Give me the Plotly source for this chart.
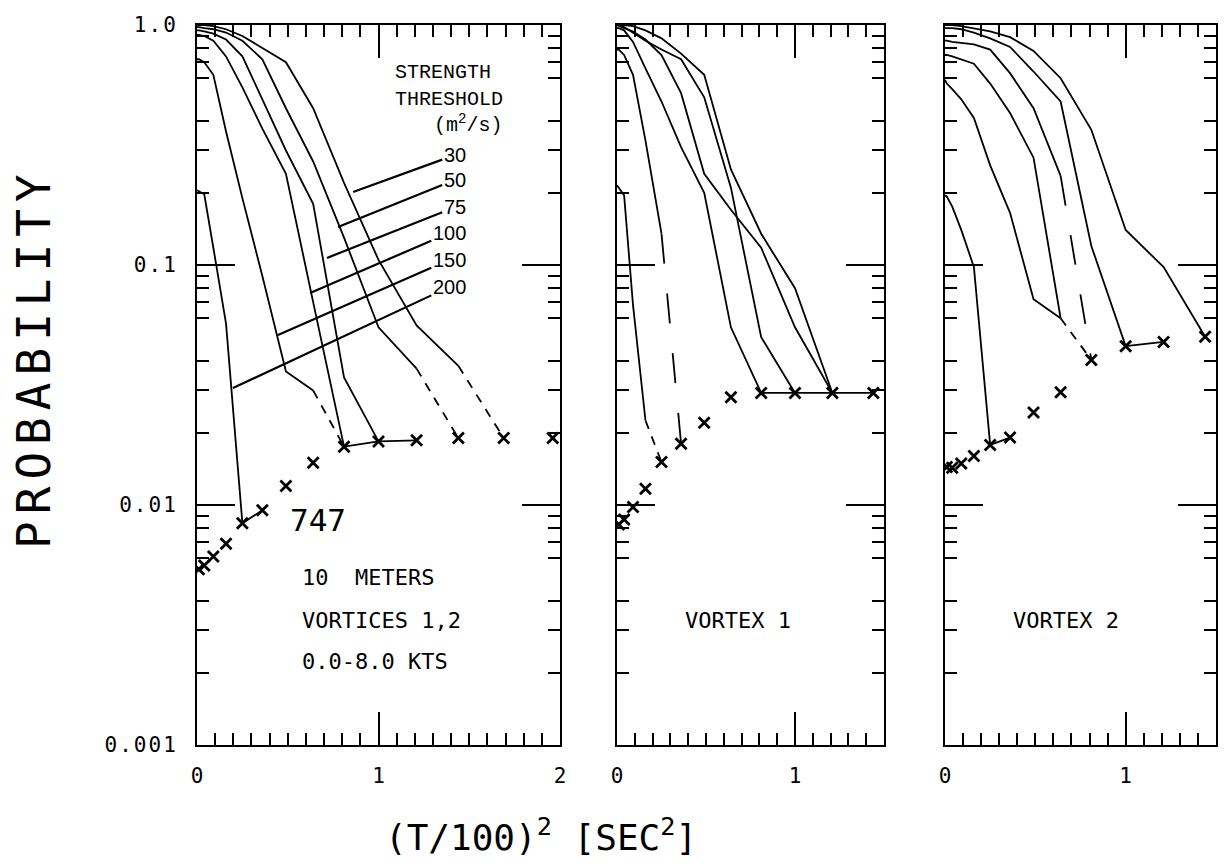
import numpy as np
import plotly.graph_objects as go

W, H = 1225, 864

# ---------------------------------------------------------------- data ----
# abscissa nodes: (T/100)^2 for T = 0, 10, 20, ..., 140 s
T_SQ = [0.0, 0.01, 0.04, 0.09, 0.16, 0.25, 0.36, 0.49, 0.64, 0.81, 1.0, 1.21, 1.44, 1.69, 1.96]

# strength thresholds (m^2/s) labelled in the first panel
THRESHOLDS = ["30", "50", "75", "100", "150", "200"]

# Every curve list starts at T = 0 and runs along T_SQ.
# --- 747, 10 m, vortices 1,2 : probability that strength exceeds threshold
v12_p30 = [1.0, 1.0, 1.0, 0.99, 0.96, 0.90, 0.80, 0.70, 0.45, 0.22, 0.105, 0.056, 0.038]
v12_p30_tail = [0.038, 0.019]          # dashed, T = 120 -> 130
v12_p50 = [0.98, 0.98, 0.97, 0.96, 0.93, 0.86, 0.72, 0.45, 0.27, 0.13, 0.055, 0.037]
v12_p50_tail = [0.037, 0.019]          # dashed, T = 110 -> 120
v12_p75 = [0.95, 0.95, 0.94, 0.92, 0.87, 0.74, 0.49, 0.30, 0.18, 0.034, 0.0184]
v12_p100 = [0.91, 0.91, 0.90, 0.86, 0.74, 0.55, 0.37, 0.24, 0.07, 0.0175]
v12_p150 = [0.72, 0.72, 0.70, 0.62, 0.36, 0.19, 0.09, 0.036, 0.030]
v12_p150_tail = [0.030, 0.0175]        # dashed, T = 80 -> 90
v12_p200 = [0.205, 0.203, 0.197, 0.118, 0.057, 0.0084]
# minimum resolvable probability (x markers), T = 10 ... 140
v12_floor = [0.0054, 0.0056, 0.0061, 0.0069, 0.0084, 0.0095, 0.0120, 0.0150,
             0.0175, 0.0184, 0.0186, 0.0190, 0.0190, 0.0190]

# --- vortex 1
v1_p30 = [1.0, 0.99, 0.97, 0.94, 0.87, 0.75, 0.52, 0.24, 0.17, 0.118, 0.055, 0.0293]
v1_p50 = [1.0, 1.0, 1.0, 0.99, 0.95, 0.88, 0.76, 0.62, 0.25, 0.135, 0.08, 0.0293]
v1_p75 = [1.0, 1.0, 0.98, 0.93, 0.86, 0.79, 0.72, 0.50, 0.21, 0.05, 0.0293]
v1_p100 = [0.97, 0.97, 0.95, 0.85, 0.66, 0.48, 0.31, 0.20, 0.055, 0.0293]
v1_p150 = [0.79, 0.79, 0.75, 0.62, 0.33, 0.135]
v1_p150_tail = [0.135, 0.018]          # long dashes, T = 50 -> 60
v1_p200 = [0.215, 0.21, 0.195, 0.068, 0.0225]
v1_p200_tail = [0.0225, 0.0151]        # dashed, T = 40 -> 50
v1_floor = [0.0083, 0.0087, 0.0098, 0.0117, 0.0151, 0.0180, 0.0220, 0.0281,
            0.0293, 0.0293, 0.0293, 0.0293]

# --- vortex 2
v2_p30 = [1.0, 1.0, 1.0, 0.99, 0.97, 0.94, 0.89, 0.78, 0.60, 0.366, 0.14, 0.098, 0.0502]
v2_p50 = [0.97, 0.97, 0.97, 0.96, 0.93, 0.88, 0.81, 0.64, 0.48, 0.12, 0.0459]
v2_p75 = [0.86, 0.86, 0.85, 0.84, 0.83, 0.79, 0.63, 0.45, 0.235]
v2_p75_tail = [0.235, 0.0402]          # long dashes, T = 80 -> 90
v2_p100 = [0.75, 0.75, 0.74, 0.72, 0.69, 0.57, 0.43, 0.28, 0.06]
v2_p150 = [0.59, 0.57, 0.54, 0.49, 0.41, 0.26, 0.165, 0.072, 0.06]
v2_p_join_tail = [0.06, 0.0402]        # dashed, T = 80 -> 90
v2_p200 = [0.195, 0.193, 0.175, 0.14, 0.098, 0.0178]
v2_floor = [0.0144, 0.0143, 0.0149, 0.0160, 0.0178, 0.0191, 0.0243, 0.0295,
            0.0402, 0.0459, 0.0478, 0.0502]

# ------------------------------------------------------------- helpers ----
fig = go.Figure()
INK = "black"
MONO = "DejaVu Sans Mono"


def nodes(n, start=0):
    return T_SQ[start:start + n]


def line(xs, ps, ax, dash=None, width=1.8):
    fig.add_trace(go.Scatter(
        x=xs, y=ps, mode="lines", xaxis="x" + ax, yaxis="y" + ax,
        line=dict(color=INK, width=width, dash=dash),
        hoverinfo="skip", showlegend=False))


def curve(ps, ax, tail=None, dash=None):
    line(nodes(len(ps)), ps, ax)
    if tail is not None:
        i = len(ps) - 1
        line(T_SQ[i:i + 2], tail, ax, dash=dash)


def crosses(ps, ax):
    fig.add_trace(go.Scatter(
        x=nodes(len(ps), 1), y=ps, mode="markers", xaxis="x" + ax, yaxis="y" + ax,
        marker=dict(symbol="x-thin", size=11, color=INK, line=dict(width=2.8, color=INK)),
        hoverinfo="skip", showlegend=False))


def floor_seg(floor, i0, i1, ax):
    # connects markers T = 10*(i0+1) ... 10*(i1+1)
    line(T_SQ[i0 + 1:i1 + 2], floor[i0:i1 + 1], ax)


SHORT_DASH = "9px,8px"
LONG_DASH = "30px,30px"

# panel 1 ("" axis suffix)
curve(v12_p30, "", v12_p30_tail, SHORT_DASH)
curve(v12_p50, "", v12_p50_tail, SHORT_DASH)
curve(v12_p75, "")
curve(v12_p100, "")
curve(v12_p150, "", v12_p150_tail, SHORT_DASH)
curve(v12_p200, "")
crosses(v12_floor, "")
floor_seg(v12_floor, 0, 2, "")
floor_seg(v12_floor, 4, 5, "")
floor_seg(v12_floor, 8, 10, "")

# panel 2
curve(v1_p30, "2")
curve(v1_p50, "2")
curve(v1_p75, "2")
curve(v1_p100, "2")
curve(v1_p150, "2", v1_p150_tail, LONG_DASH)
curve(v1_p200, "2", v1_p200_tail, SHORT_DASH)
crosses(v1_floor, "2")
floor_seg(v1_floor, 8, 11, "2")

# panel 3
curve(v2_p30, "3")
curve(v2_p50, "3")
curve(v2_p75, "3", v2_p75_tail, LONG_DASH)
curve(v2_p100, "3")
curve(v2_p150, "3", v2_p_join_tail, SHORT_DASH)
curve(v2_p200, "3")
crosses(v2_floor, "3")
floor_seg(v2_floor, 4, 5, "3")
floor_seg(v2_floor, 9, 10, "3")

# --------------------------------------------------------------- axes ----
def px_x(p):
    return p / W


def px_y(p):
    return 1 - p / H


def spaced(txt, sp):
    return '<span style="letter-spacing:%spx">%s</span>' % (sp, txt)


Y_DOM = [px_y(745), px_y(25)]
PANELS = [("", [197, 560], 2.0, [0, 1, 2]),
          ("2", [617, 884], 1.5, [0, 1]),
          ("3", [945, 1216], 1.5, [0, 1])]

decades = [0.001, 0.01, 0.1, 1.0]
y_minor = [m * d for d in (0.001, 0.01, 0.1) for m in (2, 3, 4, 6, 7, 8, 9)]
y_mid = [0.005, 0.05, 0.5]

frame = dict(showline=True, linewidth=2, linecolor=INK, mirror="ticks",
             ticks="inside", tickcolor=INK, tickwidth=1.6,
             showgrid=False, zeroline=False, automargin=False)
bare = dict(showline=False, mirror="ticks", ticks="inside", tickcolor=INK,
            tickwidth=1.6, showgrid=False, zeroline=False, showticklabels=False,
            automargin=False)
tickfont = dict(family=MONO, size=21, color=INK)

layout_axes = {}
for i, (sfx, dom, xmax, xt) in enumerate(PANELS):
    n = i + 1
    xname = "xaxis" if n == 1 else "xaxis%d" % n
    yname = "yaxis" if n == 1 else "yaxis%d" % n
    xid = "x" if n == 1 else "x%d" % n
    yid = "y" if n == 1 else "y%d" % n
    xdom = [px_x(dom[0]), px_x(dom[1])]
    layout_axes[xname] = dict(
        frame, domain=xdom, range=[0, xmax], anchor=yid,
        tickmode="array", tickvals=xt, ticktext=[str(v) for v in xt],
        ticklen=33, tickfont=tickfont, ticklabelstandoff=11,
        minor=dict(ticks="inside", ticklen=12, dtick=0.1, tick0=0,
                   tickcolor=INK, tickwidth=1.6, showgrid=False))
    layout_axes[yname] = dict(
        frame, domain=Y_DOM, type="log", range=[-3, 0], anchor=xid,
        tickmode="array", tickvals=decades,
        ticktext=[spaced(t, 2) for t in ("0.001", "0.01", "0.1", "1.0")],
        showticklabels=(n == 1), ticklen=38, tickfont=tickfont,
        ticklabelstandoff=13,
        minor=dict(ticks="inside", ticklen=12, tickmode="array", tickvals=y_minor,
                   tickcolor=INK, tickwidth=1.6, showgrid=False))
    # medium-length ticks at the half units and at the 5's of each decade
    layout_axes["xaxis%d" % (n + 3)] = dict(
        bare, overlaying=xid, anchor=yid, domain=xdom, range=[0, xmax],
        tickmode="array", tickvals=[v + 0.5 for v in range(int(xmax))],
        ticklen=22)
    layout_axes["yaxis%d" % (n + 3)] = dict(
        bare, overlaying=yid, anchor=xid, domain=Y_DOM, type="log", range=[-3, 0],
        tickmode="array", tickvals=y_mid, ticklen=25)

# -------------------------------------------------------- annotations ----
ann = []

# threshold labels with leader lines (panel 1 data coordinates)
label_pos = [(1.42, 0.287), (1.42, 0.226), (1.42, 0.174),
             (1.39, 0.136), (1.39, 0.105), (1.39, 0.081)]
leader_end = [(0.86, 0.2015), (0.777, 0.144), (0.716, 0.107),
              (0.623, 0.0764), (0.446, 0.0511), (0.198, 0.0307)]
for txt, (tx, tp), (ex, ep) in zip(THRESHOLDS, label_pos, leader_end):
    ann.append(dict(text=txt, xref="x", yref="y", axref="x", ayref="y",
                    x=ex, y=np.log10(ep), ax=tx, ay=np.log10(tp),
                    showarrow=True, arrowhead=0, arrowwidth=2.2, arrowcolor=INK,
                    font=dict(family="Liberation Sans", size=20, color=INK)))

courier = dict(family="Liberation Mono", size=20, color=INK)
for txt, cx, cy in (("STRENGTH", 443, 73), ("THRESHOLD", 449, 100),
                    ("(m<sup>2</sup>/s)", 468, 124)):
    ann.append(dict(text=txt, xref="paper", yref="paper", x=px_x(cx), y=px_y(cy),
                    xanchor="center", yanchor="middle", showarrow=False, font=courier))


def plotter(txt, x, y, size, anchor="left", spacing=0, angle=0):
    if spacing:
        txt = spaced(txt, spacing)
    ann.append(dict(text=txt, xref="paper", yref="paper", x=px_x(x), y=px_y(y),
                    xanchor=anchor, yanchor="middle", showarrow=False, textangle=angle,
                    font=dict(family=MONO, size=size, color=INK)))


plotter("747", 288, 520, 31)
plotter("10  METERS", 300, 577, 22)
plotter("VORTICES 1,2", 300, 620, 22)
plotter("0.0-8.0 KTS", 300, 661, 22)
plotter("VORTEX 1", 738, 620, 22, anchor="center")
plotter("VORTEX 2", 1066, 620, 22, anchor="center")
plotter("PROBABILITY", 34, 358, 46, anchor="center", spacing=7, angle=-90)
plotter("(T/100)<sup>2</sup> [SEC<sup>2</sup>]", 541, 835, 36, anchor="center")

fig.update_layout(
    width=W, height=H, margin=dict(l=0, r=0, t=0, b=0, autoexpand=False),
    paper_bgcolor="white", plot_bgcolor="rgba(0,0,0,0)",
    showlegend=False, annotations=ann, **layout_axes)

fig.write_html("out.html")
